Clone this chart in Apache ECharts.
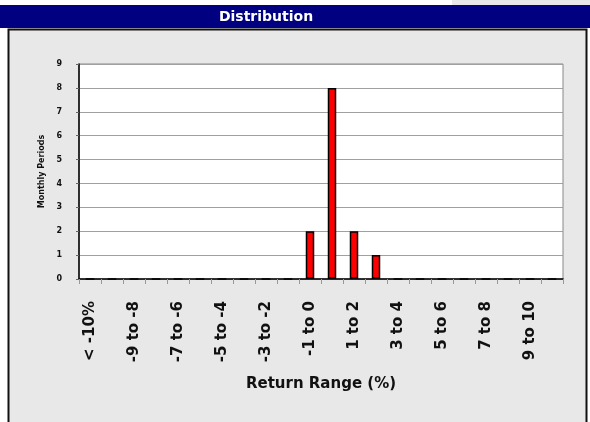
<!DOCTYPE html>
<html>
<head>
<meta charset="utf-8">
<script src="https://cdn.jsdelivr.net/npm/echarts@6/dist/echarts.min.js"></script>
<style>html,body{margin:0;padding:0;background:#fff;}#c{width:590px;height:422px;}</style>
</head>
<body>
<div id="c"></div>
<script>
const categories = ["< -10%", "-10 to -9", "-9 to -8", "-8 to -7", "-7 to -6", "-6 to -5", "-5 to -4", "-4 to -3", "-3 to -2", "-2 to -1", "-1 to 0", "0 to 1", "1 to 2", "2 to 3", "3 to 4", "4 to 5", "5 to 6", "6 to 7", "7 to 8", "8 to 9", "9 to 10", "> 10%"];
const monthlyPeriods = [0, 0, 0, 0, 0, 0, 0, 0, 0, 0, 2, 8, 2, 1, 0, 0, 0, 0, 0, 0, 0, 0];
const titleText = "Distribution";
const xName = "Return Range (%)";
const yName = "Monthly Periods";

const chart = echarts.init(document.getElementById('c'), null, {renderer: 'canvas'});
chart.setOption({
  animation: false,
  backgroundColor: '#ffffff',
  graphic: [
    {type: 'rect', z: -20, silent: true, shape: {x: 452, y: 0, width: 138, height: 6}, style: {fill: '#e8e8e8'}},
    {type: 'rect', z: -20, silent: true, shape: {x: 0, y: 5, width: 590, height: 23}, style: {fill: '#000080'}},
    {type: 'rect', z: -20, silent: true, shape: {x: 8.5, y: 29.5, width: 578, height: 410}, style: {fill: '#e8e8e8', stroke: '#111', lineWidth: 2}},
    {type: 'text', z: 10, silent: true, x: 266, y: 17, style: {text: titleText, fill: '#fff', font: 'bold 14px "DejaVu Sans"', align: 'center', verticalAlign: 'middle'}}
  ],
  grid: {left: 79, right: 27, top: 64, bottom: 143, show: true, backgroundColor: '#ffffff', borderColor: '#888', borderWidth: 1},
  xAxis: {
    type: 'category',
    data: categories,
    name: xName,
    nameLocation: 'middle',
    nameGap: 98,
    nameTextStyle: {fontFamily: 'DejaVu Sans', fontWeight: 'bold', fontSize: 15, color: '#111'},
    axisLine: {lineStyle: {color: '#000', width: 1.5}},
    axisTick: {show: true, interval: 0, length: 5, lineStyle: {color: '#999'}},
    axisLabel: {interval: 1, rotate: 90, margin: 22, fontFamily: 'DejaVu Sans', fontWeight: 'bold', fontSize: 15, color: '#111'}
  },
  yAxis: {
    type: 'value',
    min: 0, max: 9, interval: 1,
    name: yName,
    nameLocation: 'middle',
    nameGap: 28,
    nameTextStyle: {fontFamily: 'DejaVu Sans', fontWeight: 'bold', fontSize: 8, color: '#111'},
    axisLine: {show: true, lineStyle: {color: '#000', width: 1.5}},
    axisTick: {show: true, length: 3, lineStyle: {color: '#666'}},
    axisLabel: {margin: 17, fontFamily: 'DejaVu Sans', fontWeight: 'bold', fontSize: 8, color: '#111'},
    splitLine: {lineStyle: {color: '#a0a0a0', width: 1}}
  },
  series: [{
    type: 'bar',
    data: monthlyPeriods,
    barWidth: 8.5,
    itemStyle: {color: '#ff0000', borderColor: '#000', borderWidth: 1.5}
  }]
});
</script>
</body>
</html>
